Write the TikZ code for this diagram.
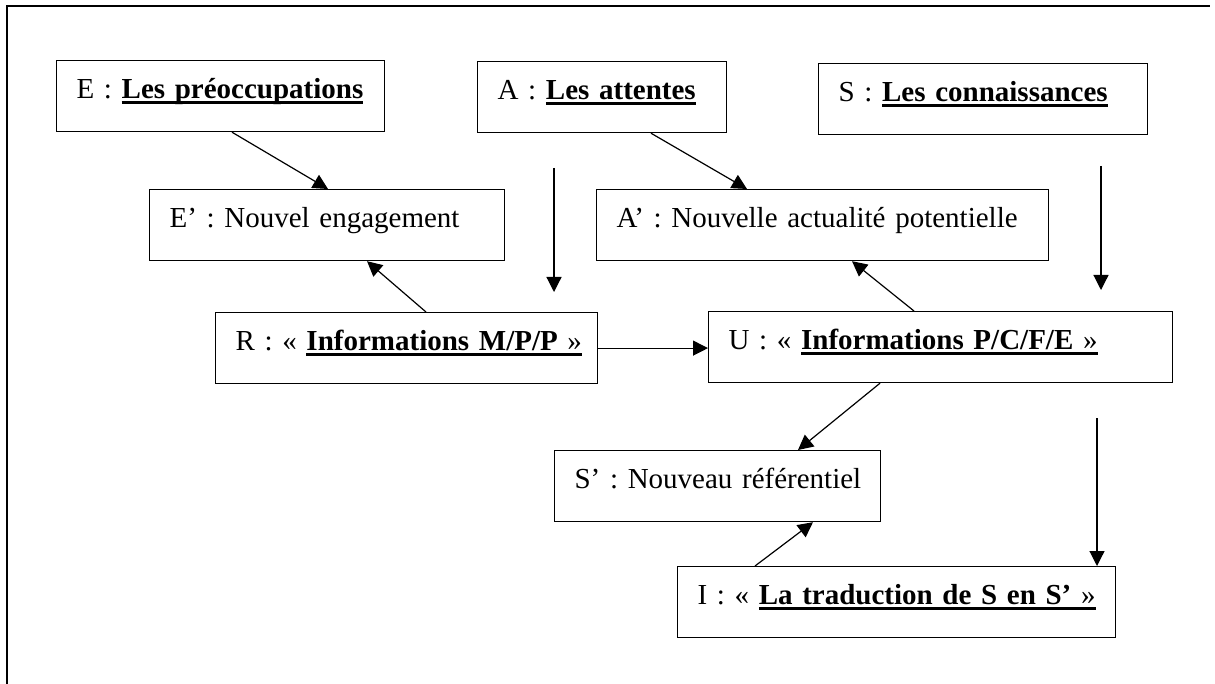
\documentclass[tikz,border=0pt]{standalone}
\usepackage{fontspec}
\setmainfont{Liberation Serif}
\usetikzlibrary{arrows.meta}
\newcommand{\myul}[1]{\setbox0\hbox{#1}\rlap{\rule[-2.9pt]{\wd0}{1.5pt}}\box0}
\begin{document}
\begin{tikzpicture}[x=0.5pt,y=-0.5pt,
  mybox/.style={draw, line width=0.6pt, anchor=north west, inner xsep=10pt, inner ysep=0pt,
    text height=19pt, text depth=16.5pt, font=\fontsize{14.5}{17}\selectfont},
  arr/.style={line width=0.6pt, -{Triangle[length=7.5pt,width=7.5pt]}},
  frameline/.style={line width=1pt}]
\useasboundingbox (0,0) rectangle (1215,684);
% outer frame (top and left only)
\coordinate (fr1) at (6.5,684);
\coordinate (fr2) at (6.5,6);
\coordinate (fr3) at (1210,6);
\draw[frameline] (fr1) -- (fr2) -- (fr3);

% boxes
\node[mybox, text width=144pt] (E) at (56,60) {\mbox{E : \myul{\textbf{Les préoccupations}}}};
\node[mybox, text width=104.5pt] (A) at (477,61) {\mbox{A : \myul{\textbf{Les attentes}}}};
\node[mybox, text width=144.5pt] (S) at (818,63) {\mbox{S : \myul{\textbf{Les connaissances}}}};
\node[mybox, text width=157.5pt] (Ep) at (149,189) {\mbox{E’ : Nouvel engagement}};
\node[mybox, text width=206pt] (Ap) at (596,189) {\mbox{A’ : Nouvelle actualité potentielle}};
\node[mybox, text width=171pt] (R) at (215,312) {\mbox{R : « \myul{\textbf{Informations M/P/P} »}}};
\node[mybox, text width=212pt] (U) at (708,311) {\mbox{U : « \myul{\textbf{Informations P/C/F/E} »}}};
\node[mybox, text width=143pt] (Sp) at (554,450) {\mbox{S’ : Nouveau référentiel}};
\node[mybox, text width=199pt] (I) at (677,566) {\mbox{I : « \myul{\textbf{La traduction de S en S’} »}}};

% connectors
\draw[arr] ([xshift=88pt]E.south west) -- ([xshift=89.5pt]Ep.north west);
\draw[arr] ([xshift=87pt]A.south west) -- ([xshift=75.5pt]Ap.north west);
\draw[arr] ([xshift=105.5pt]R.north west) -- ([xshift=109pt]Ep.south west);
\draw[arr] ([xshift=103pt]U.north west) -- ([xshift=128pt]Ap.south west);
\draw[arr] (R.east) -- (R.east -| U.west);
\draw[arr] ([xshift=86pt]U.south west) -- ([xshift=122pt]Sp.north west);
\draw[arr] ([xshift=39pt]I.north west) -- ([xshift=129.5pt]Sp.south west);

% free vertical arrows
\coordinate (f1a) at (554,168);
\coordinate (f1b) at (554,292);
\coordinate (f2a) at (1101,166);
\coordinate (f2b) at (1101,290);
\coordinate (f3a) at (1097,418);
\coordinate (f3b) at (1097,566);
\draw[arr] (f1a) -- (f1b);
\draw[arr] (f2a) -- (f2b);
\draw[arr] (f3a) -- (f3b);
\end{tikzpicture}
\end{document}
